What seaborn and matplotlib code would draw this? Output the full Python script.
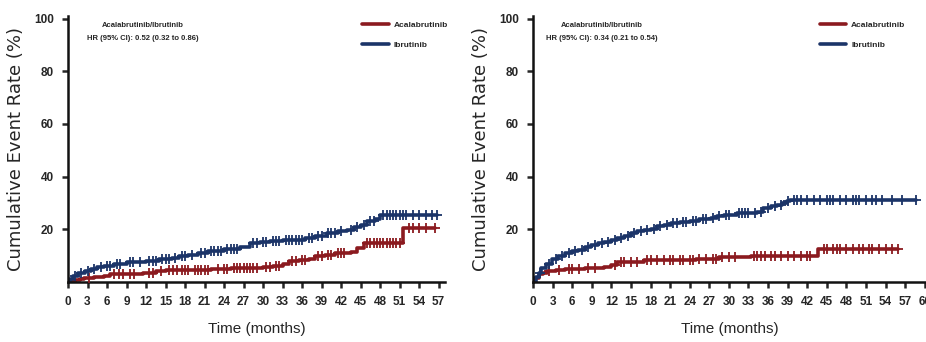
import numpy as np
import pandas as pd
import matplotlib
matplotlib.use("Agg")
import matplotlib.pyplot as plt
import seaborn as sns
from matplotlib.lines import Line2D

# ---- data -------------------------------------------------------------
# Panel A (left)
a_acal_t = [0, 0.5, 1.0, 1.8, 2.5, 4.0, 5.5, 6.5, 9.0, 11.5, 13.5, 15.0, 19.0, 22.0,
            25.0, 30.0, 31.5, 33.0, 34.0, 35.5, 37.0, 38.0, 39.5, 41.0, 43.5, 44.5,
            45.5, 51.6, 56.5]
a_acal_v = [0, 0.5, 0.9, 1.2, 1.5, 1.8, 2.3, 2.9, 3.2, 3.5, 4.0, 4.4, 4.7, 5.1,
            5.4, 5.8, 6.2, 7.0, 7.8, 8.3, 8.8, 9.9, 10.4, 10.9, 11.3, 13.0,
            14.8, 20.5, 20.5]
a_ibru_t = [0, 0.3, 0.8, 1.5, 2.6, 3.5, 4.5, 5.5, 7.0, 9.0, 12.0, 14.0, 16.0, 17.0,
            18.5, 20.0, 21.5, 24.0, 26.4, 28.0, 29.5, 31.0, 33.0, 36.5, 38.0, 39.8,
            41.5, 42.9, 44.0, 45.0, 46.0, 47.2, 48.0, 56.8]
a_ibru_v = [0, 1.2, 2.4, 3.3, 4.2, 5.0, 5.6, 6.0, 6.9, 7.7, 8.1, 8.6, 9.2, 9.8,
            10.4, 11.2, 11.7, 12.4, 13.2, 14.8, 15.2, 15.6, 16.1, 16.6, 17.4, 18.6,
            19.2, 19.9, 20.7, 21.8, 23.0, 23.8, 25.5, 25.5]
a_acal_cens = [3.2, 7.0, 7.8, 8.5, 9.5, 10.2, 12.5, 13.0, 14.3, 15.5, 16.2, 16.8, 17.5,
               18.0, 18.5, 19.5, 20.0, 20.5, 21.0, 21.5, 23.0, 24.0, 24.5, 25.5, 26.0,
               26.5, 27.0, 27.5, 28.0, 28.5, 29.0, 30.5, 31.0, 32.0, 32.5, 34.5, 35.0,
               36.0, 36.5, 38.5, 39.0, 40.0, 40.5, 41.5, 42.0, 42.5, 46.0, 46.5, 47.0,
               47.5, 48.0, 48.5, 49.0, 49.5, 50.0, 50.5, 51.0, 52.5, 53.0, 54.0, 55.0,
               56.5]
a_ibru_cens = [1.0, 2.0, 3.0, 4.0, 5.0, 6.0, 6.5, 7.5, 8.0, 9.5, 10.0, 11.0, 12.5,
               13.0, 13.5, 14.5, 15.0, 15.5, 16.5, 17.5, 18.0, 19.0, 20.5, 21.0, 22.0,
               22.5, 23.0, 23.5, 24.5, 25.0, 25.5, 26.0, 28.5, 29.0, 30.0, 30.5, 31.5,
               32.0, 32.5, 33.5, 34.0, 34.5, 35.0, 35.5, 36.0, 37.0, 37.5, 38.5, 39.0,
               40.0, 40.5, 41.0, 42.0, 43.5, 44.5, 45.5, 46.5, 47.0, 48.5, 49.0, 49.5,
               50.0, 50.5, 51.0, 51.5, 52.0, 53.0, 54.0, 55.0, 56.0, 56.8]

# Panel B (right)
b_acal_t = [0, 0.3, 0.9, 1.5, 2.1, 3.5, 4.9, 8.0, 10.9, 12.0, 12.9, 17.0, 25.0,
            28.5, 33.4, 43.7, 55.9]
b_acal_v = [0, 1.5, 2.9, 3.6, 4.2, 4.7, 5.0, 5.4, 5.6, 6.6, 7.7, 8.2, 8.6,
            9.5, 9.9, 12.7, 12.7]
b_ibru_t = [0, 0.4, 0.9, 1.3, 2.0, 2.9, 3.9, 4.9, 5.9, 6.9, 7.9, 8.9, 9.9, 10.9,
            11.9, 12.9, 14.0, 15.0, 16.0, 17.0, 18.0, 19.0, 20.0, 21.1, 22.5, 24.1,
            25.5, 27.2, 28.2, 29.2, 31.3, 34.3, 35.3, 36.4, 37.4, 38.2, 38.9, 39.4,
            58.7]
b_ibru_v = [0, 1.8, 3.5, 5.4, 7.0, 8.6, 9.9, 11.0, 11.8, 12.3, 13.3, 14.2, 14.7, 15.2,
            16.0, 16.7, 17.6, 18.6, 19.2, 19.9, 20.3, 21.1, 21.8, 22.4, 22.9, 23.3,
            23.8, 24.3, 24.9, 25.5, 26.2, 26.5, 28.0, 28.7, 29.3, 30.0, 30.6, 31.2,
            31.2]
b_acal_cens = [2.5, 4.0, 5.5, 6.0, 7.0, 8.5, 9.5, 12.5, 13.5, 14.0, 15.0, 16.0, 17.5,
               18.0, 19.0, 20.0, 21.0, 21.5, 22.5, 23.0, 24.0, 24.5, 25.5, 26.5, 27.5,
               28.0, 29.0, 30.0, 31.0, 33.8, 34.3, 35.0, 35.5, 36.5, 37.0, 38.0, 39.0,
               40.0, 41.0, 42.0, 42.5, 44.5, 45.0, 46.0, 46.5, 47.0, 48.0, 49.0, 50.0,
               50.5, 51.5, 52.0, 53.0, 54.0, 55.0, 55.9]
b_ibru_cens = [1.0, 2.5, 3.5, 4.5, 5.5, 6.5, 7.5, 8.5, 9.5, 10.5, 11.5, 12.5, 13.5,
               14.5, 15.5, 16.5, 17.5, 18.5, 19.5, 20.5, 21.5, 22.0, 23.0, 23.5, 24.5,
               25.0, 26.0, 26.5, 27.5, 28.5, 29.5, 30.0, 31.5, 32.0, 32.5, 33.0, 34.0,
               35.0, 36.0, 37.0, 38.0, 39.0, 40.0, 40.5, 41.0, 42.0, 43.0, 44.0, 45.0,
               45.5, 46.0, 47.0, 48.0, 49.0, 49.5, 50.0, 51.0, 52.0, 52.5, 53.5, 55.0,
               56.5, 58.7]

series_names = ["Acalabrutinib", "Ibrutinib"]
hr_labels = ["HR (95% CI): 0.52 (0.32 to 0.86)", "HR (95% CI): 0.34 (0.21 to 0.54)"]
comparison_label = "Acalabrutinib/Ibrutinib"
a_xticks = list(range(0, 58, 3))
b_xticks = list(range(0, 61, 3))
yticks = [20, 40, 60, 80, 100]

# ---- style ------------------------------------------------------------
sns.set_theme(style="ticks")
narrow = ["Liberation Sans Narrow", "Liberation Sans", "DejaVu Sans"]
plt.rcParams["font.family"] = narrow

RED = "#8b1a1f"
BLUE = "#1b3468"
colors = {"Acalabrutinib": RED, "Ibrutinib": BLUE}

fig = plt.figure(figsize=(9.26, 3.42), dpi=100)
ax_a = fig.add_axes([68 / 926, 60 / 342, 377 / 926, 266 / 342])
ax_b = fig.add_axes([533 / 926, 60 / 342, 393 / 926, 266 / 342])


def step_at(ts, vs, x):
    ts = np.asarray(ts)
    vs = np.asarray(vs)
    idx = np.searchsorted(ts, x, side="right") - 1
    return vs[np.clip(idx, 0, len(vs) - 1)]


def draw_panel(ax, curves, xticks, xmax, hr_text, text_x, leg_x):
    for name, (t, v, cens) in curves.items():
        df = pd.DataFrame({"time": t, "rate": v})
        sns.lineplot(data=df, x="time", y="rate", ax=ax, drawstyle="steps-post",
                     color=colors[name], linewidth=2.6, estimator=None,
                     sort=False, legend=False)
        cdf = pd.DataFrame({"time": cens, "rate": step_at(t, v, np.asarray(cens))})
        sns.scatterplot(data=cdf, x="time", y="rate", ax=ax, marker="+",
                        color=colors[name], s=42, linewidth=1.3, legend=False,
                        zorder=3)
    ax.set_xlim(0, xmax)
    ax.set_ylim(0, 101)
    ax.set_xticks(xticks)
    ax.set_yticks(yticks)
    ax.tick_params(axis="both", direction="out", length=4, width=1.8,
                   labelsize=8.5, pad=6)
    for lab in ax.get_xticklabels() + ax.get_yticklabels():
        lab.set_fontweight("bold")
    for s in ["top", "right"]:
        ax.spines[s].set_visible(False)
    for s in ["left", "bottom"]:
        ax.spines[s].set_linewidth(1.8)
        ax.spines[s].set_color("#111111")
    ax.set_xlabel("Time (months)", fontsize=11, labelpad=10)
    ax.set_ylabel("Cumulative Event Rate (%)", fontsize=13,
                  family=["DejaVu Sans"], labelpad=7)
    ax.text(text_x, 97.5, comparison_label, transform=ax.transData,
            ha="center", va="center", fontsize=5.5, fontweight="bold")
    ax.text(text_x, 92.5, hr_text, transform=ax.transData,
            ha="center", va="center", fontsize=5.5, fontweight="bold")
    handles = [Line2D([0], [0], color=colors[n], linewidth=2.6) for n in series_names]
    ax.legend(handles, series_names, loc="upper left",
              bbox_to_anchor=(leg_x, 1.01), frameon=False,
              handlelength=3.2, labelspacing=1.5, handletextpad=0.6,
              prop={"weight": "bold", "size": 6})


draw_panel(ax_a,
           {"Acalabrutinib": (a_acal_t, a_acal_v, a_acal_cens),
            "Ibrutinib": (a_ibru_t, a_ibru_v, a_ibru_cens)},
           a_xticks, 58.0, hr_labels[0], 11.5, 0.76)
draw_panel(ax_b,
           {"Acalabrutinib": (b_acal_t, b_acal_v, b_acal_cens),
            "Ibrutinib": (b_ibru_t, b_ibru_v, b_ibru_cens)},
           b_xticks, 60.2, hr_labels[1], 10.5, 0.71)

fig.savefig("out.png", dpi=100)
